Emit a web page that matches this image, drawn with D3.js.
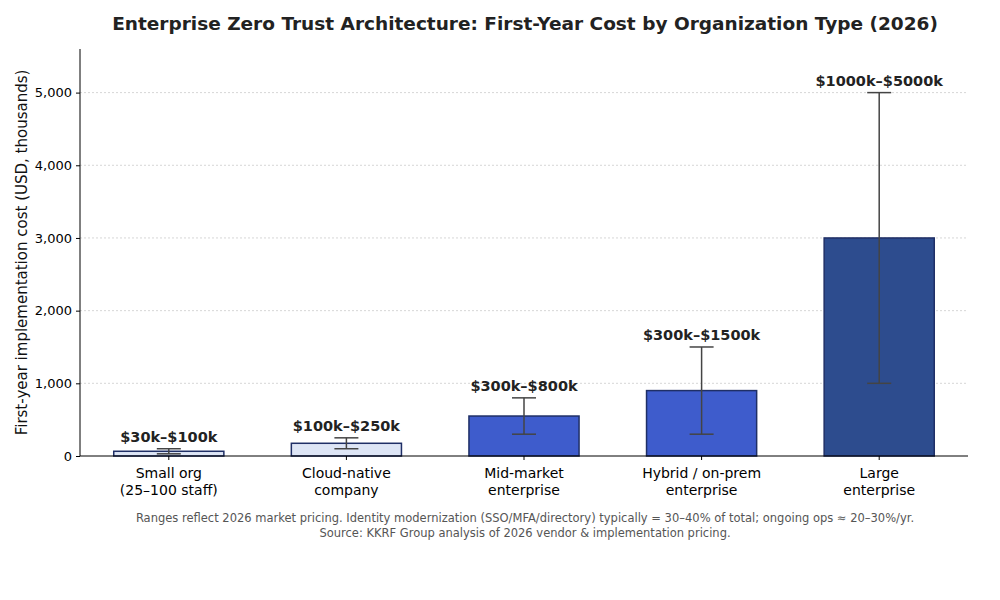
<!DOCTYPE html>
<html><head><meta charset="utf-8">
<script src="https://cdn.jsdelivr.net/npm/d3@7"></script>
<style>body{margin:0;background:#fff;font-family:"DejaVu Sans",sans-serif}</style>
</head><body><svg id="c" width="1000" height="600"></svg>
<script>
const categories = ['Small org\n(25–100 staff)', 'Cloud-native\ncompany', 'Mid-market\nenterprise', 'Hybrid / on-prem\nenterprise', 'Large\nenterprise'];
const midValues = [65, 175, 550, 900, 3000];
const lowValues = [30, 100, 300, 300, 1000];
const highValues = [100, 250, 800, 1500, 5000];
const rangeLabels = ['$30k–$100k', '$100k–$250k', '$300k–$800k', '$300k–$1500k', '$1000k–$5000k'];
const barColors = ['#dde5f5', '#dde5f5', '#3e5ccc', '#3e5ccc', '#2d4c8e'];
const yTicks = [0, 1000, 2000, 3000, 4000, 5000];

const svg = d3.select('#c');
const m = {l: 80, r: 968, t: 49, b: 456};
const x = d3.scaleBand().domain(d3.range(categories.length)).range([m.l, m.r]).paddingInner(0.38).paddingOuter(0.19);
const y = d3.scaleLinear().domain([0, 5600]).range([m.b, m.t]);

svg.append('g').selectAll('line').data(yTicks.slice(1)).join('line')
  .attr('x1', m.l).attr('x2', m.r).attr('y1', d => y(d)).attr('y2', d => y(d))
  .attr('stroke', '#ccc').attr('stroke-dasharray', '2,2').attr('stroke-width', 0.8);

svg.append('g').selectAll('rect').data(midValues).join('rect')
  .attr('x', (d, i) => x(i)).attr('width', x.bandwidth())
  .attr('y', d => y(d)).attr('height', d => y(0) - y(d))
  .attr('fill', (d, i) => barColors[i]).attr('stroke', '#1f2f66').attr('stroke-width', 1.5);

const eb = svg.append('g').attr('stroke', '#444').attr('stroke-width', 1.5);
categories.forEach((c, i) => {
  const cx = x(i) + x.bandwidth() / 2;
  eb.append('line').attr('x1', cx).attr('x2', cx).attr('y1', y(lowValues[i])).attr('y2', y(highValues[i]));
  [lowValues[i], highValues[i]].forEach(v => eb.append('line').attr('x1', cx - 12).attr('x2', cx + 12).attr('y1', y(v)).attr('y2', y(v)));
  svg.append('text').attr('x', cx).attr('y', y(highValues[i]) - 7).attr('text-anchor', 'middle')
    .attr('font-size', 14.5).attr('font-weight', 'bold').attr('fill', '#222').text(rangeLabels[i]);
});

const ya = svg.append('g').attr('transform', `translate(${m.l},0)`)
  .call(d3.axisLeft(y).tickValues(yTicks).tickSize(4).tickPadding(4));
ya.select('.domain').attr('d', `M0,${m.t}V${m.b}`);
ya.selectAll('text').attr('font-size', 13).attr('fill', '#000').attr('font-family', 'DejaVu Sans');

const xa = svg.append('g').attr('transform', `translate(0,${m.b})`)
  .call(d3.axisBottom(x).tickSize(4).tickFormat(''));
xa.select('.domain').attr('d', `M${m.l},0H${m.r}`);
categories.forEach((c, i) => {
  const t = svg.append('text').attr('x', x(i) + x.bandwidth() / 2).attr('y', m.b + 22)
    .attr('text-anchor', 'middle').attr('font-size', 14).attr('fill', '#000');
  c.split('\n').forEach((s, k) => t.append('tspan').attr('x', x(i) + x.bandwidth() / 2).attr('dy', k ? 17 : 0).text(s));
});

svg.append('text').attr('transform', `translate(27,${(m.t + m.b) / 2}) rotate(-90)`).attr('text-anchor', 'middle')
  .attr('font-size', 15).attr('fill', '#111').text('First-year implementation cost (USD, thousands)');
svg.append('text').attr('x', 525).attr('y', 30).attr('text-anchor', 'middle').attr('font-size', 18.5)
  .attr('font-weight', 'bold').attr('fill', '#222').text('Enterprise Zero Trust Architecture: First-Year Cost by Organization Type (2026)');
svg.append('text').attr('x', 525).attr('y', 522).attr('text-anchor', 'middle').attr('font-size', 11.5).attr('fill', '#555')
  .text('Ranges reflect 2026 market pricing. Identity modernization (SSO/MFA/directory) typically = 30–40% of total; ongoing ops ≈ 20–30%/yr.');
svg.append('text').attr('x', 525).attr('y', 537).attr('text-anchor', 'middle').attr('font-size', 11.5).attr('fill', '#555')
  .text('Source: KKRF Group analysis of 2026 vendor & implementation pricing.');
</script></body></html>
